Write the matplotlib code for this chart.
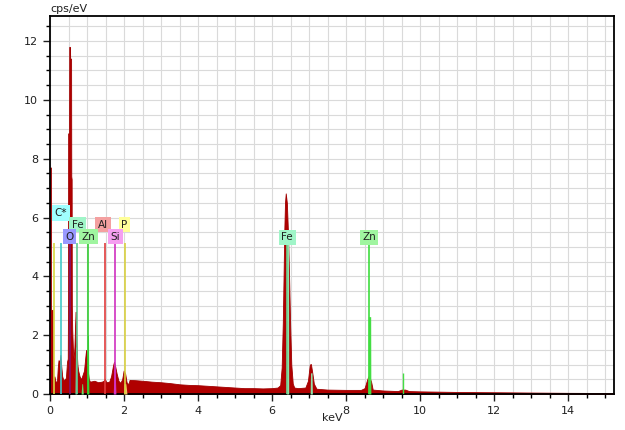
import matplotlib
matplotlib.use("Agg")
import matplotlib.pyplot as plt
from matplotlib.ticker import MultipleLocator

# EDS spectrum: energy (keV) and intensity (cps/eV)
energy = [0.000, 0.000, 0.025, 0.025, 0.070, 0.075, 0.090, 0.120, 0.150, 0.190,
          0.210, 0.230, 0.260, 0.280, 0.300, 0.330, 0.360, 0.400, 0.430, 0.460,
          0.480, 0.488, 0.490, 0.515, 0.520, 0.540, 0.545, 0.570, 0.575, 0.585,
          0.590, 0.600, 0.620, 0.640, 0.660, 0.680, 0.695, 0.710, 0.725, 0.740,
          0.760, 0.800, 0.840, 0.880, 0.920, 0.950, 0.975, 0.990, 1.020, 1.050,
          1.080, 1.200, 1.300, 1.400, 1.450, 1.480, 1.520, 1.600, 1.650, 1.700,
          1.730, 1.760, 1.800, 1.850, 1.900, 1.950, 1.990, 2.030, 2.070, 2.120,
          2.150, 2.300, 2.500, 2.750, 3.000, 3.250, 3.500, 3.750, 4.000, 4.250,
          4.500, 4.750, 5.000, 5.250, 5.500, 5.750, 6.000, 6.150, 6.220, 6.260,
          6.290, 6.310, 6.330, 6.350, 6.370, 6.400, 6.430, 6.460, 6.490, 6.520,
          6.560, 6.600, 6.700, 6.900, 6.970, 7.020, 7.050, 7.090, 7.130, 7.200,
          7.500, 8.000, 8.400, 8.500, 8.560, 8.600, 8.640, 8.680, 8.720, 9.000,
          9.400, 9.500, 9.600, 9.700, 10.00, 11.00, 12.00, 13.00, 14.00, 15.00,
          15.30, 15.30]
cps = [0.00, 7.70, 7.70, 2.86, 2.86, 0.90, 0.50, 0.60, 0.40, 0.45,
       0.90, 1.15, 1.10, 1.33, 1.00, 0.60, 0.48, 0.50, 0.55, 1.10,
       1.20, 3.70, 8.86, 8.86, 11.80, 11.80, 11.40, 11.40, 7.40, 7.30,
       3.00, 2.20, 1.50, 1.20, 1.60, 2.40, 2.80, 2.00, 1.40, 1.00,
       0.80, 0.60, 0.50, 0.65, 0.80, 1.20, 1.50, 1.30, 0.80, 0.50,
       0.42, 0.45, 0.40, 0.42, 0.45, 0.52, 0.40, 0.42, 0.60, 0.95,
       1.10, 0.95, 0.70, 0.45, 0.38, 0.50, 0.80, 0.70, 0.40, 0.33,
       0.48, 0.47, 0.45, 0.42, 0.40, 0.37, 0.33, 0.31, 0.30, 0.28,
       0.26, 0.24, 0.22, 0.20, 0.20, 0.19, 0.20, 0.22, 0.30, 0.90,
       2.40, 3.90, 5.50, 6.50, 6.82, 6.50, 5.50, 4.00, 2.30, 1.00,
       0.35, 0.22, 0.20, 0.22, 0.45, 1.00, 1.02, 0.70, 0.35, 0.18,
       0.15, 0.14, 0.14, 0.20, 0.45, 0.60, 0.55, 0.40, 0.15, 0.12,
       0.10, 0.15, 0.15, 0.10, 0.09, 0.07, 0.06, 0.05, 0.04, 0.035,
       0.035, 0.00]

# fitted element profiles drawn over the spectrum: (energies, heights, colour)
overlays = [
    ([0.675, 0.69, 0.71, 0.725], [0.0, 1.6, 1.6, 0.0], "#80d8a8"),
    ([0.995, 1.01, 1.04, 1.05], [0.0, 2.0, 2.0, 0.0], "#33dd33"),
    ([0.84, 0.86, 0.88, 0.90], [0.0, 0.35, 0.35, 0.0], "#66dd66"),
    ([1.71, 1.73, 1.76, 1.78], [0.0, 0.85, 0.85, 0.0], "#e040d0"),
    ([1.99, 2.00, 2.05, 2.08], [0.0, 0.35, 0.35, 0.0], "#f0c060"),
    ([6.385, 6.39, 6.445, 6.45], [0.0, 5.10, 5.10, 0.0], "#90e0a8"),
    ([7.03, 7.04, 7.08, 7.09], [0.0, 0.72, 0.72, 0.0], "#90e0a8"),
    ([8.595, 8.60, 8.665, 8.67], [0.0, 2.63, 2.63, 0.0], "#44dd44"),
]

# thin single-channel spikes: energy, height, colour
spike_energy = [9.53]
spike_height = [0.72]
spike_color = ["#44dd44"]

# element marker lines
line_energy = [0.10, 0.29, 0.55, 0.73, 1.03, 1.49, 1.75, 2.02, 6.41, 8.62]
line_color = ["#d8d840", "#40c8c8", "#801070", "#60c890", "#33cc33",
              "#e03c3c", "#d030c0", "#d8d040", "#70d090", "#40dd40"]
line_top = 5.12

# element labels: text, x (keV), y (cps/eV), box colour
label_text = ["C*", "Fe", "Al", "P", "O", "Zn", "Si", "Fe", "Zn"]
label_x = [0.30, 0.74, 1.43, 2.01, 0.53, 1.03, 1.76, 6.41, 8.62]
label_y = [6.15, 5.76, 5.76, 5.76, 5.35, 5.35, 5.35, 5.33, 5.33]
label_color = ["#a0ffff", "#a0f5c8", "#f4a0a0", "#ffff99", "#9999ff",
               "#a0f5a0", "#f5a0f0", "#a0f5c8", "#a0f5a0"]

fig = plt.figure(figsize=(6.25, 4.3), dpi=100)
ax = fig.add_axes([0.08, 0.0837, 0.9024, 0.8791])

ax.fill_between(energy, cps, 0, color="#b00000", lw=0.6, edgecolor="#a00000", zorder=2)

for xs, ys, c in overlays:
    ax.fill_between(xs, ys, 0, color=c, lw=0, zorder=3)
ax.vlines(spike_energy, 0, spike_height, colors=spike_color, lw=1.0, zorder=3)

ax.vlines(line_energy, 0, line_top, colors=line_color, lw=1.2, zorder=4)

for t, x, y, c in zip(label_text, label_x, label_y, label_color):
    ax.text(x, y, t, ha="center", va="center", fontsize=7.5, color="#202020", zorder=5,
            bbox=dict(boxstyle="square,pad=0.25", fc=c, ec="none"))

ax.set_xlim(0, 15.24)
ax.set_ylim(0, 12.85)
ax.xaxis.set_major_locator(MultipleLocator(2))
ax.xaxis.set_minor_locator(MultipleLocator(0.5))
ax.yaxis.set_major_locator(MultipleLocator(2))
ax.yaxis.set_minor_locator(MultipleLocator(0.5))
ax.grid(True, which="both", color="#dadada", lw=0.8, zorder=0)
ax.set_axisbelow(True)
ax.tick_params(which="major", length=5, width=1, labelsize=8, colors="#202020")
ax.tick_params(which="minor", length=3, width=1)
for s in ax.spines.values():
    s.set_linewidth(1.3)
    s.set_color("black")

fig.text(50 / 625, 1 - 9 / 430, "cps/eV", fontsize=8, ha="left", va="center", color="#202020")
fig.text(332 / 625, 1 - 418 / 430, "keV", fontsize=8, ha="center", va="center", color="#202020")

fig.savefig("out.png", dpi=100)
